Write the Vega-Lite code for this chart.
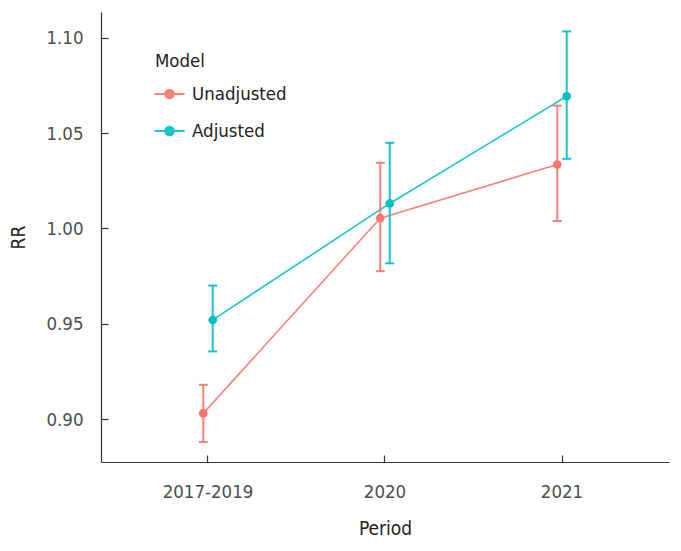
{
  "$schema": "https://vega.github.io/schema/vega-lite/v6.json",
  "width": 568,
  "height": 450,
  "autosize": {"type": "none"},
  "padding": {"left": 101, "top": 12, "right": 12, "bottom": 89},
  "background": "white",
  "config": {
    "view": {"stroke": null},
    "font": "DejaVu Sans Condensed, sans-serif",
    "axis": {
      "domainColor": "#333333",
      "tickColor": "#333333",
      "labelColor": "#4d4d4d",
      "titleColor": "#222222",
      "labelFontSize": 18.5,
      "titleFontSize": 19,
      "titleFontWeight": "normal",
      "grid": false,
      "tickSize": -7,
      "domainWidth": 1.2,
      "tickWidth": 1.2
    },
    "legend": {
      "labelFontSize": 18.5,
      "titleFontSize": 18.5,
      "titleFontWeight": "normal",
      "labelColor": "#222222",
      "titleColor": "#222222"
    }
  },
  "data": {
    "values": [
      {"Period": "2017-2019", "Model": "Unadjusted", "RR": 0.903, "lo": 0.888, "hi": 0.918},
      {"Period": "2020", "Model": "Unadjusted", "RR": 1.0054, "lo": 0.9776, "hi": 1.0344},
      {"Period": "2021", "Model": "Unadjusted", "RR": 1.0335, "lo": 1.0039, "hi": 1.0644},
      {"Period": "2017-2019", "Model": "Adjusted", "RR": 0.952, "lo": 0.9355, "hi": 0.970},
      {"Period": "2020", "Model": "Adjusted", "RR": 1.0131, "lo": 0.9817, "hi": 1.0449},
      {"Period": "2021", "Model": "Adjusted", "RR": 1.0693, "lo": 1.0365, "hi": 1.1033}
    ]
  },
  "encoding": {
    "x": {
      "field": "Period",
      "type": "nominal",
      "sort": ["2017-2019", "2020", "2021"],
      "scale": {"type": "band", "paddingInner": 0.893, "paddingOuter": 0.551},
      "axis": {"labelAngle": 0, "labelPadding": 27, "titlePadding": 19, "title": "Period"}
    },
    "xOffset": {
      "field": "Model",
      "type": "nominal",
      "sort": ["Unadjusted", "Adjusted"],
      "scale": {"paddingInner": 0, "paddingOuter": 0}
    },
    "color": {
      "field": "Model",
      "type": "nominal",
      "sort": ["Unadjusted", "Adjusted"],
      "scale": {"domain": ["Unadjusted", "Adjusted"], "range": ["#F8766D", "#00BFC4"]},
      "legend": {
        "orient": "none",
        "legendX": 54,
        "legendY": 40,
        "title": "Model",
        "symbolType": "M -1.15 0 L 1.15 0 M 0.33 0 A 0.33 0.33 0 1 1 -0.33 0 A 0.33 0.33 0 1 1 0.33 0 Z",
        "symbolSize": 690,
        "symbolStrokeWidth": 2,
        "rowPadding": 13,
        "titlePadding": 9,
        "labelOffset": 8
      }
    }
  },
  "layer": [
    {
      "mark": {"type": "line", "strokeWidth": 1.6, "opacity": 0.9},
      "encoding": {
        "y": {
          "field": "RR",
          "type": "quantitative",
          "scale": {"domain": [0.8775, 1.1135], "nice": false, "zero": false},
          "axis": {"values": [0.9, 0.95, 1.0, 1.05, 1.1], "format": ".2f", "labelPadding": 25, "titlePadding": 17, "title": "RR"}
        },
        "detail": {"field": "Model"}
      }
    },
    {
      "mark": {"type": "rule", "strokeWidth": 2, "opacity": 0.9},
      "encoding": {
        "y": {"field": "lo", "type": "quantitative"},
        "y2": {"field": "hi"}
      }
    },
    {
      "mark": {"type": "tick", "size": 9, "thickness": 2, "opacity": 0.9},
      "encoding": {"y": {"field": "lo", "type": "quantitative"}}
    },
    {
      "mark": {"type": "tick", "size": 9, "thickness": 2, "opacity": 0.9},
      "encoding": {"y": {"field": "hi", "type": "quantitative"}}
    },
    {
      "mark": {"type": "point", "filled": true, "size": 75, "opacity": 1},
      "encoding": {"y": {"field": "RR", "type": "quantitative"}}
    }
  ]
}
